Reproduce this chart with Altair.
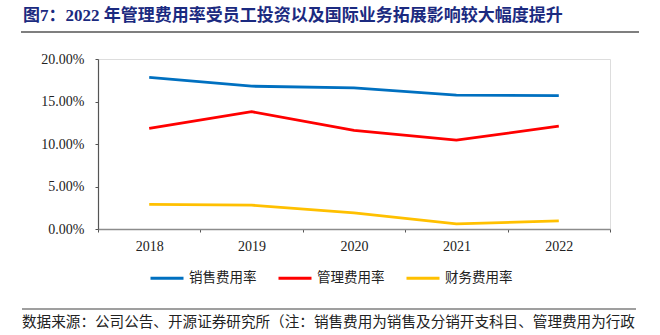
import altair as alt
import pandas as pd

years = ["2018", "2019", "2020", "2021", "2022"]
series_names = ["销售费用率", "管理费用率", "财务费用率"]
sales = [17.85, 16.8, 16.6, 15.75, 15.7]
admin = [11.85, 13.8, 11.6, 10.45, 12.1]
finance = [2.9, 2.8, 1.9, 0.6, 0.95]
colors = ["#0070C0", "#FF0000", "#FFC000"]
y_ticks = [0, 5, 10, 15, 20]

title_text = "图7：2022 年管理费用率受员工投资以及国际业务拓展影响较大幅度提升"
source_text = "数据来源：公司公告、开源证券研究所（注：销售费用为销售及分销开支科目、管理费用为行政"

rows = []
for name, vals in zip(series_names, [sales, admin, finance]):
    for y, v in zip(years, vals):
        rows.append({"year": y, "series": name, "value": v / 100})
df = pd.DataFrame(rows)

W, H = 512, 170
serif = "Liberation Serif, Times New Roman, serif"
cjk = "Noto Sans CJK SC"

lines = alt.Chart(df).mark_line(strokeWidth=2.8).encode(
    x=alt.X("year:N", sort=years, title=None,
            scale=alt.Scale(paddingInner=0, paddingOuter=0),
            axis=alt.Axis(labelAngle=0, labelFont=serif, labelFontSize=14,
                          labelColor="#222222", domainColor="#8c8c8c",
                          domainWidth=1.5, tickColor="#555555", tickSize=3,
                          tickBand="extent", labelPadding=7, grid=False)),
    y=alt.Y("value:Q", title=None,
            scale=alt.Scale(domain=[0, 0.2], nice=False),
            axis=alt.Axis(values=[t / 100 for t in y_ticks], format=".2%",
                          labelFont=serif, labelFontSize=14, labelColor="#222222",
                          domainColor="#555555", domainWidth=1.2,
                          tickColor="#555555", tickSize=3, labelPadding=11,
                          grid=False)),
    color=alt.Color("series:N", sort=series_names,
                    scale=alt.Scale(domain=series_names, range=colors),
                    legend=alt.Legend(orient="none", legendX=51, legendY=201,
                                      direction="horizontal", title=None,
                                      symbolType="stroke", symbolSize=1089,
                                      symbolStrokeWidth=3, labelFont=cjk,
                                      labelFontSize=13.5, labelColor="#222222",
                                      labelOffset=4, columnPadding=15)),
)

title = alt.Chart().mark_text(align="left", baseline="middle", font=serif + ", " + cjk,
                               fontSize=17, fontWeight="bold", color="#1B2A80").encode(
    x=alt.value(-75), y=alt.value(-43), text=alt.datum(title_text))

title_rule = alt.Chart().mark_rule(color="#7f7f7f", strokeWidth=2).encode(
    x=alt.value(-77), x2=alt.value(541), y=alt.value(-27))

foot_rule = alt.Chart().mark_rule(color="#404040", strokeWidth=1.2).encode(
    x=alt.value(-76), x2=alt.value(538), y=alt.value(250))

source = alt.Chart().mark_text(align="left", baseline="middle", font=cjk,
                                fontSize=14.6, color="#222222").encode(
    x=alt.value(-76), y=alt.value(264), text=alt.datum(source_text))

chart = alt.layer(lines, title, title_rule, foot_rule, source).properties(
    width=W, height=H,
    padding={"left": 98, "top": 59, "right": 50, "bottom": 106},
    autosize=alt.AutoSizeParams(type="none"),
).configure_view(stroke=None).configure(background="white")

chart.save("out.html", embed_options={"renderer": "svg", "actions": False})
